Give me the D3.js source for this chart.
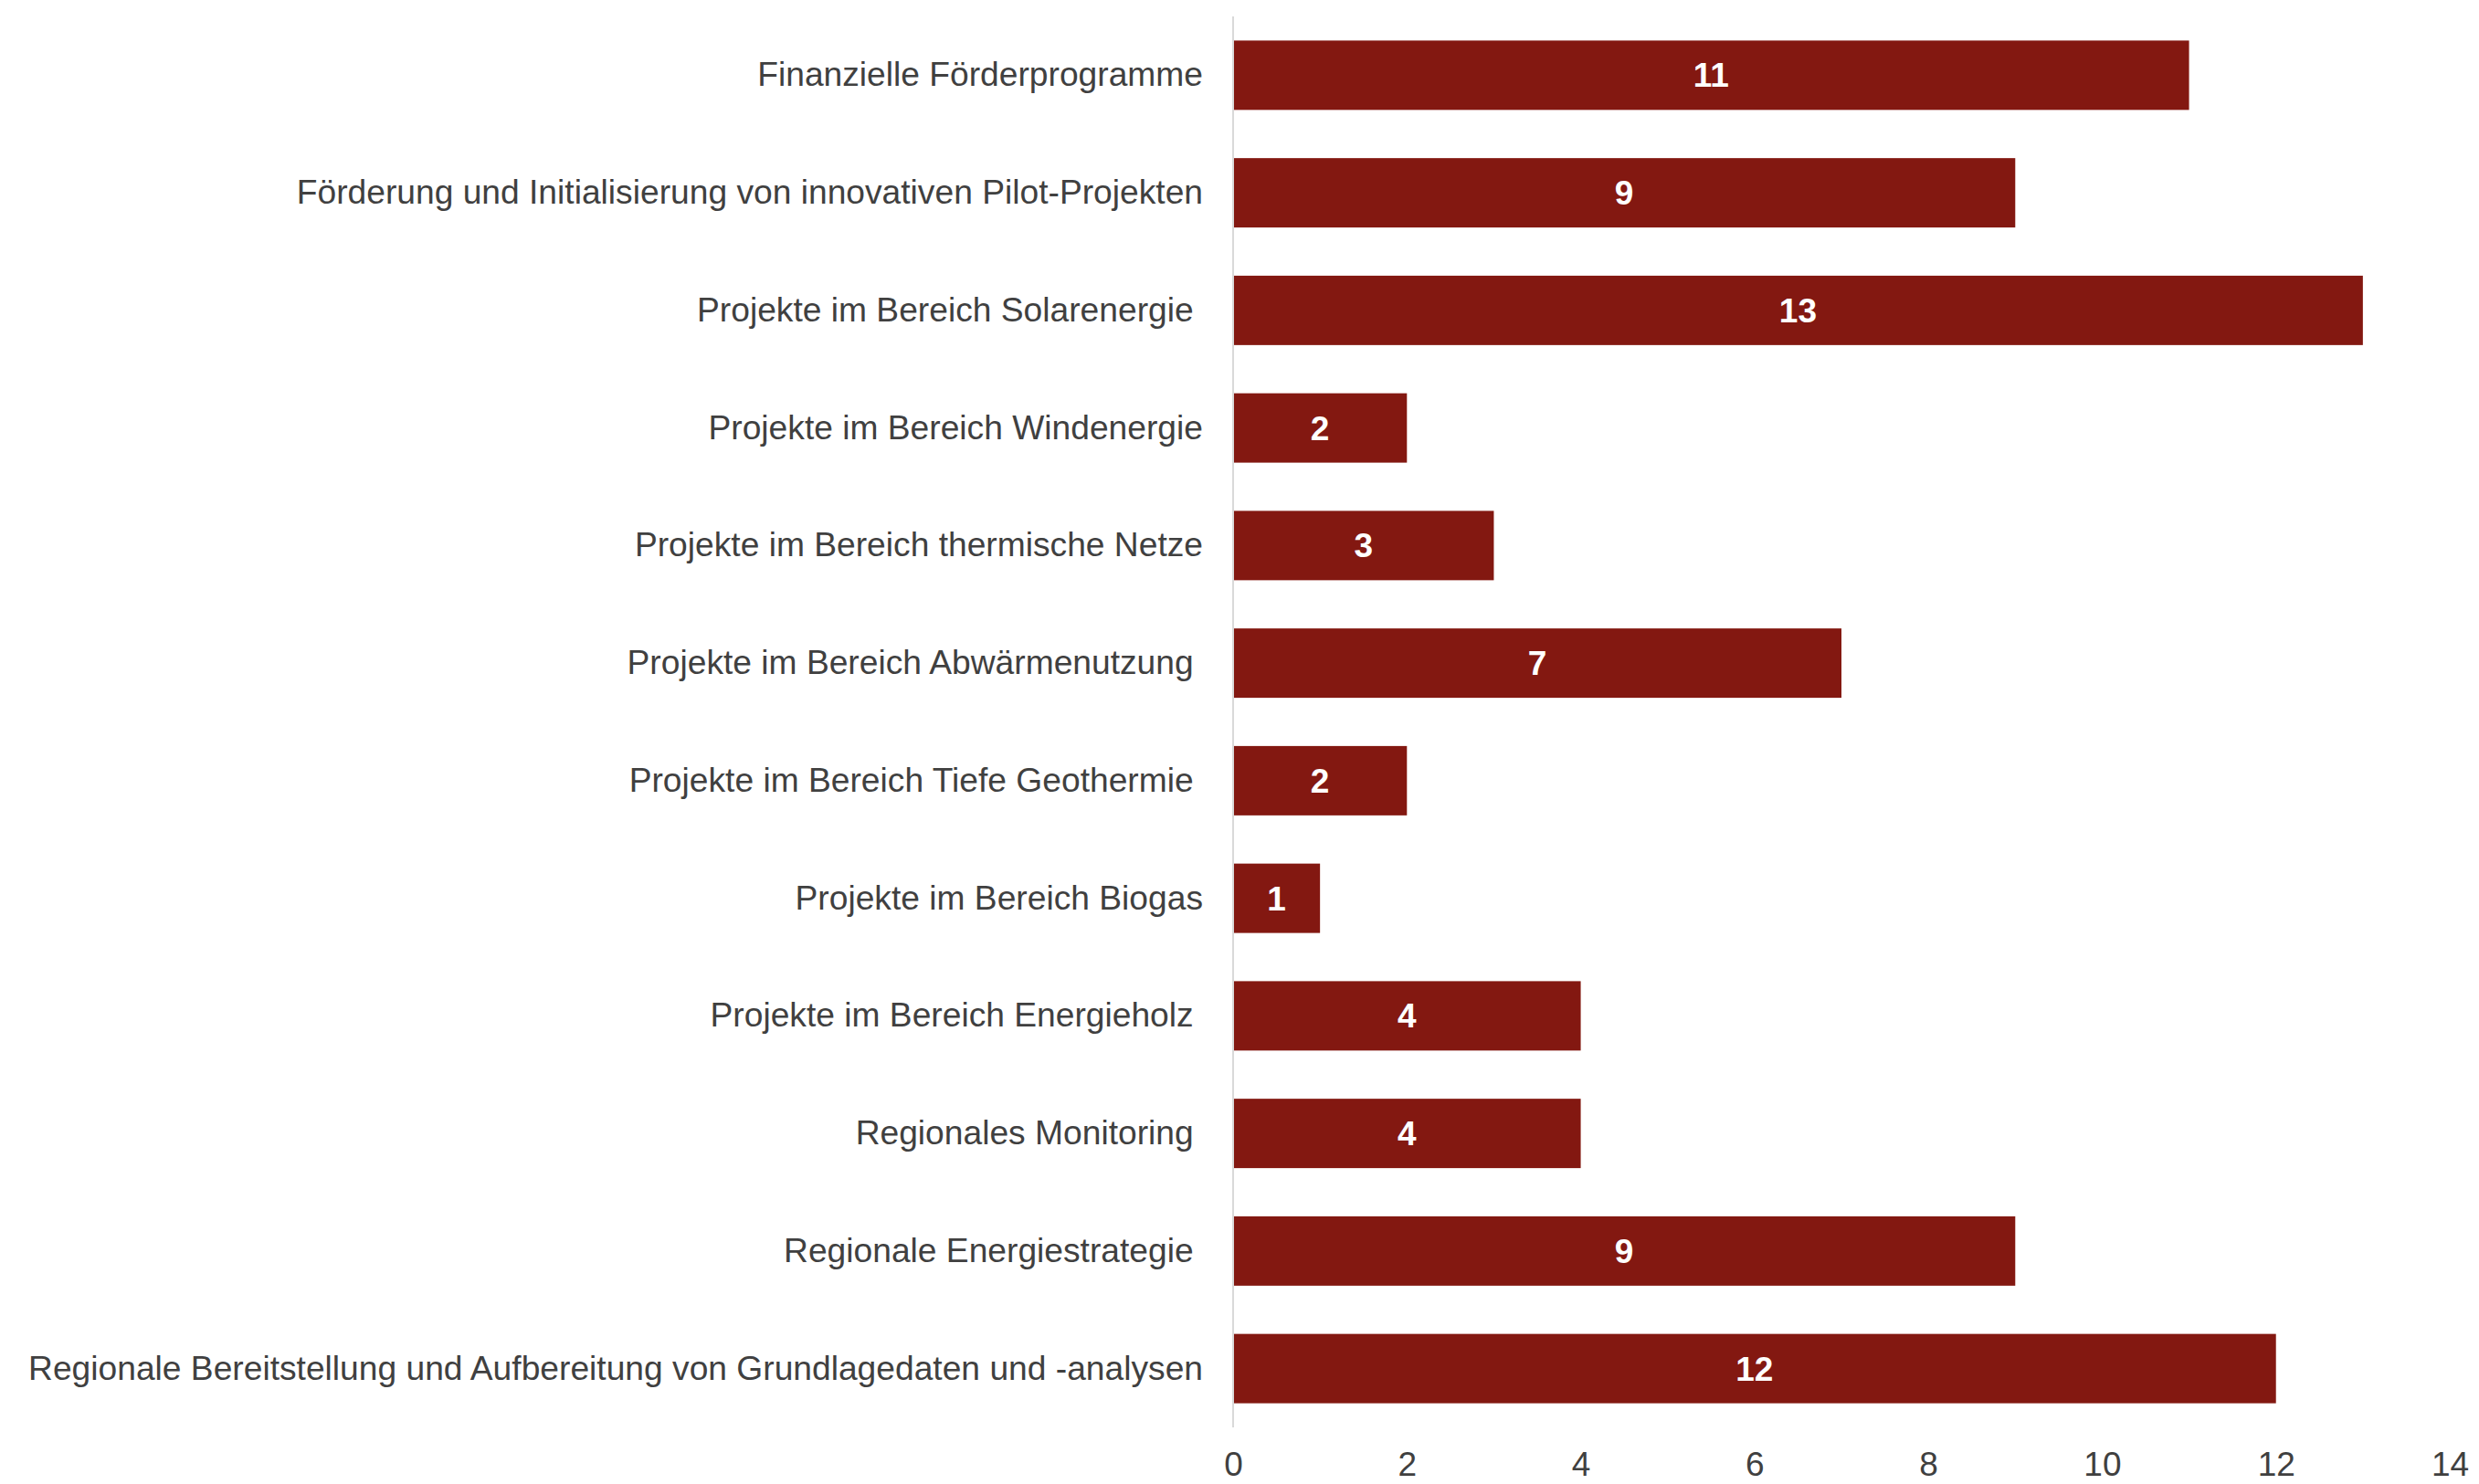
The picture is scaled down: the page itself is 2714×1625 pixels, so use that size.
<!DOCTYPE html>
<html>
<head>
<meta charset="utf-8">
<script src="https://cdn.jsdelivr.net/npm/d3@7"></script>
<style>
  body { margin: 0; background: #fff; }
  text { font-family: "Liberation Sans", Arial, sans-serif; white-space: pre; }
</style>
</head>
<body>
<div id="chart"></div>
<script>
// categories, top to bottom (trailing blanks as in the source)
var categories = [
    "Finanzielle Förderprogramme",
    "Förderung und Initialisierung von innovativen Pilot-Projekten",
    "Projekte im Bereich Solarenergie ",
    "Projekte im Bereich Windenergie",
    "Projekte im Bereich thermische Netze",
    "Projekte im Bereich Abwärmenutzung ",
    "Projekte im Bereich Tiefe Geothermie ",
    "Projekte im Bereich Biogas",
    "Projekte im Bereich Energieholz ",
    "Regionales Monitoring ",
    "Regionale Energiestrategie ",
    "Regionale Bereitstellung und Aufbereitung von Grundlagedaten und -analysen"
];
var values = [11, 9, 13, 2, 3, 7, 2, 1, 4, 4, 9, 12];
var xTicks = [0, 2, 4, 6, 8, 10, 12, 14];

var W = 2714, H = 1625;
var margin = {top: 18, right: 32, bottom: 62, left: 1350};

var svg = d3.select("#chart")
    .append("svg")
    .attr("width", W)
    .attr("height", H);

var x = d3.scaleLinear()
    .domain([0, 14])
    .range([margin.left, W - margin.right]);

var y = d3.scaleBand()
    .domain(categories)
    .range([margin.top, H - margin.bottom])
    .paddingInner(0.41)
    .paddingOuter(0.205);

// bars
svg.append("g")
    .selectAll("rect")
    .data(values)
    .enter().append("rect")
    .attr("x", x(0))
    .attr("y", function(d, i) { return y(categories[i]); })
    .attr("width", function(d) { return x(d) - x(0); })
    .attr("height", y.bandwidth())
    .attr("fill", "#831811");

// vertical axis line
svg.append("line")
    .attr("x1", x(0)).attr("x2", x(0))
    .attr("y1", margin.top).attr("y2", H - margin.bottom)
    .attr("stroke", "#d9d9d9")
    .attr("stroke-width", 2);

// category labels
var yAxis = svg.append("g")
    .attr("transform", "translate(" + x(0) + ",0)")
    .call(d3.axisLeft(y).tickSize(0).tickPadding(33));
yAxis.select(".domain").remove();
yAxis.selectAll("text")
    .attr("font-size", 37.2)
    .attr("fill", "#404040")
    .style("font-family", "Liberation Sans, Arial, sans-serif");

// x axis tick labels
var xAxis = svg.append("g")
    .attr("transform", "translate(0," + (H - margin.bottom) + ")")
    .call(d3.axisBottom(x).tickValues(xTicks).tickSize(0).tickPadding(27));
xAxis.select(".domain").remove();
xAxis.selectAll("text")
    .attr("font-size", 37)
    .attr("fill", "#404040")
    .style("font-family", "Liberation Sans, Arial, sans-serif");

// value labels
svg.append("g")
    .selectAll("text")
    .data(values)
    .enter().append("text")
    .attr("x", function(d) { return (x(0) + x(d)) / 2; })
    .attr("y", function(d, i) { return y(categories[i]) + y.bandwidth() / 2; })
    .attr("dy", "0.35em")
    .attr("text-anchor", "middle")
    .attr("font-size", 37)
    .attr("font-weight", "bold")
    .attr("fill", "#ffffff")
    .text(function(d) { return d; });
</script>
</body>
</html>
